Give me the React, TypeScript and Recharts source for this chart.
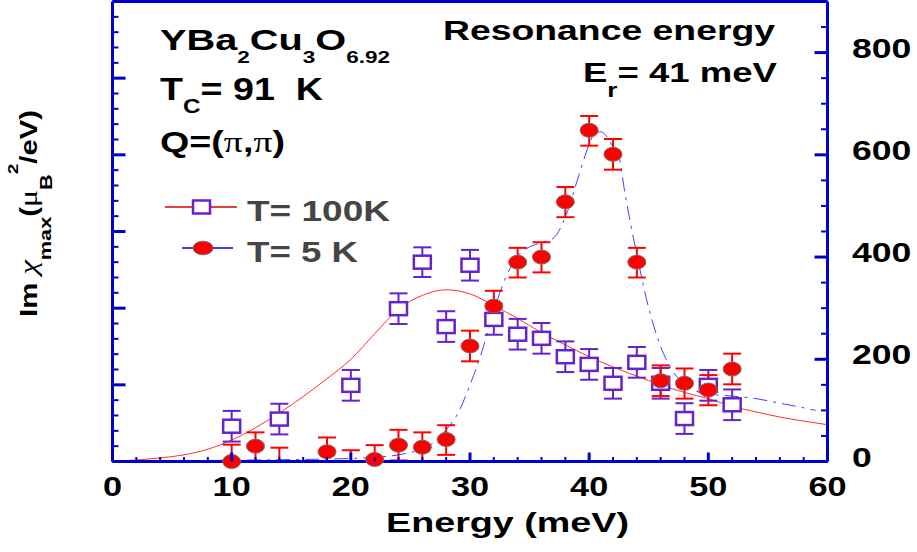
import React from 'react';
import { ComposedChart, XAxis, YAxis, Line, Scatter, ErrorBar } from 'recharts';

// T = 100 K data (open squares)
const energy100K = [10, 14, 20, 24, 26, 28, 30, 32, 34, 36, 38, 40, 42, 44, 46, 48, 50, 52];
const chi100K = [69, 83, 149, 299, 390, 264, 384, 278, 249, 241, 205, 190, 153, 194, 153, 84, 149, 111];
const err100K = [30, 30, 30, 30, 29, 30, 30, 30, 30, 30, 30, 30, 30, 30, 30, 30, 30, 30];

// T = 5 K data (red dots); points at 14 and 20 meV fall under the axis, only their bars show
const energy5K = [10, 12, 14, 18, 20, 22, 24, 26, 28, 30, 32, 34, 36, 38, 40, 42, 44, 46, 48, 50, 52];
const chi5K = [0, 30, 0, 19, 0, 4, 32, 28, 43, 226, 304, 390, 400, 508, 648, 601, 390, 158, 153, 140, 181];
const errLow5K = [0, 30, 0, 19, 0, 4, 30, 28, 30, 30, 30, 30, 30, 30, 30, 30, 30, 30, 30, 30, 30];
const errHigh5K = [33, 27, 27, 28, 22, 28, 30, 29, 28, 30, 30, 28, 29, 29, 28, 30, 28, 30, 29, 29, 30];
const hidden5K = [14, 20];

// fitted curves
const fitEnergy100K = [0, 2, 4, 6, 8, 10, 12, 14, 16, 18, 20, 22, 24, 26, 28, 30, 32, 34, 36, 38, 40, 42, 44, 46, 48, 50, 52, 54, 56, 58, 60];
const fitChi100K = [0, 3, 7, 13, 24, 42, 66, 95, 127, 162, 200, 250, 298, 325, 336, 328, 305, 280, 252, 228, 205, 185, 167, 150, 135, 123, 108, 97, 87, 79, 72];
const fitEnergy5K = [4, 8, 12, 16, 20, 22, 24, 26, 27, 28, 29, 30, 31, 32, 33, 34, 35, 36, 37, 38, 39, 40, 40.5, 41, 41.5, 42, 42.5, 43, 44, 45, 46, 47, 48, 49, 50, 52, 54, 56, 58, 59];
const fitChi5K = [1, 2, 3, 4, 6, 8, 13, 25, 38, 62, 95, 150, 215, 295, 360, 402, 420, 428, 437, 478, 550, 620, 643, 645, 635, 615, 596, 525, 405, 300, 225, 177, 152, 138, 132, 128, 123, 114, 105, 100];

// axis ticks
const energyTicks = [0, 2, 4, 6, 8, 10, 12, 14, 16, 18, 20, 22, 24, 26, 28, 30, 32, 34, 36, 38, 40, 42, 44, 46, 48, 50, 52, 54, 56, 58, 60];
const chiTicks = [0, 50, 100, 150, 200, 250, 300, 350, 400, 450, 500, 550, 600, 650, 700, 750, 800, 850, 900];
const chiLabels = [0, 200, 400, 600, 800];
const leftTicks = [0, 1, 2, 3, 4, 5, 6, 7, 8, 9, 10, 11, 12, 13, 14, 15, 16, 17, 18, 19, 20, 21, 22, 23, 24, 25, 26, 27, 28, 29, 30];

const data100K = energy100K.map((e, i) => ({ e, v: chi100K[i], err: err100K[i] }));
const data5K = energy5K.map((e, i) => ({
  e,
  v: chi5K[i],
  err: [errLow5K[i], errHigh5K[i]],
  hidden: hidden5K.includes(e),
}));
const fit100K = fitEnergy100K.map((e, i) => ({ e, v: fitChi100K[i] }));
const fit5K = fitEnergy5K.map((e, i) => ({ e, v: fitChi5K[i] }));

const BLUE = '#0000cc';
const PURPLE = '#6622cc';
const RED = '#ff0000';
const FONT = '"Liberation Sans", Arial, Helvetica, sans-serif';
const GREEK = '"Liberation Serif", "Times New Roman", serif';

function BottomTick(props: any) {
  const { x, y, payload } = props;
  const major = payload.value % 10 === 0;
  return (
    <g>
      <line x1={x} y1={y} x2={x} y2={y - (major ? 9 : 4.5)} stroke={BLUE} strokeWidth={major ? 3 : 2} />
      {major && (
        <text
          transform={`translate(${x},${y + 34.5}) scale(1.27,1)`}
          textAnchor="middle"
          fontSize={27}
          fontWeight="bold"
          fontFamily={FONT}
          fill="#000"
        >
          {payload.value}
        </text>
      )}
    </g>
  );
}

function TopTick(props: any) {
  const { x, y, payload } = props;
  const major = payload.value % 10 === 0;
  return <line x1={x} y1={y} x2={x} y2={y + (major ? 10 : 6)} stroke={BLUE} strokeWidth={major ? 3 : 2} />;
}

function LeftTick(props: any) {
  const { x, y, payload } = props;
  const major = payload.value % 5 === 0;
  return <line x1={x} y1={y} x2={x + (major ? 13 : 6)} y2={y} stroke={BLUE} strokeWidth={major ? 3 : 2} />;
}

function RightTick(props: any) {
  const { x, y, payload } = props;
  const major = payload.value % 200 === 0;
  return (
    <g>
      <line x1={x} y1={y} x2={x - (major ? 13 : 6.5)} y2={y} stroke={BLUE} strokeWidth={major ? 3 : 2} />
      {chiLabels.includes(payload.value) && (
        <text
          transform={`translate(${x + 24.5},${y + 5}) scale(1.27,1)`}
          fontSize={28}
          fontWeight="bold"
          fontFamily={FONT}
          fill="#000"
        >
          {payload.value}
        </text>
      )}
    </g>
  );
}

const Square = (p: any) => (
  <rect x={p.cx - 8.5} y={p.cy - 6.5} width={17} height={13} fill="#fff" stroke={PURPLE} strokeWidth={2.5} />
);

const Dot = (p: any) =>
  p.payload && p.payload.hidden ? (
    <g />
  ) : (
    <ellipse cx={p.cx} cy={p.cy} rx={9} ry={7} fill={RED} stroke="#6f6f6f" strokeWidth={1} />
  );

const txt = { fontFamily: FONT, fontWeight: 'bold' as const, fill: '#000', style: { whiteSpace: 'pre' as const } };

export default function App() {
  return (
    <div style={{ position: 'absolute', left: 0, top: 0, width: 917, height: 552, background: '#fff' }}>
      <ComposedChart width={917} height={552} margin={{ top: 0.5, right: 88.5, bottom: 89.5, left: 111.5 }}>
        <XAxis
          xAxisId="b"
          dataKey="e"
          type="number"
          domain={[0, 60]}
          ticks={energyTicks}
          interval={0}
          height={1}
          tickSize={0}
          tickMargin={0}
          tickLine={false}
          tick={(p: any) => <BottomTick {...p} />}
          axisLine={{ stroke: BLUE, strokeWidth: 3 }}
        />
        <XAxis
          xAxisId="t"
          orientation="top"
          type="number"
          domain={[0, 60]}
          allowDataOverflow
          ticks={energyTicks}
          interval={0}
          height={1}
          tickSize={0}
          tickMargin={0}
          tickLine={false}
          tick={(p: any) => <TopTick {...p} />}
          axisLine={{ stroke: BLUE, strokeWidth: 3 }}
        />
        <YAxis
          yAxisId="l"
          type="number"
          domain={[0, 30]}
          allowDataOverflow
          ticks={leftTicks}
          interval={0}
          width={1}
          tickSize={0}
          tickMargin={0}
          tickLine={false}
          tick={(p: any) => <LeftTick {...p} />}
          axisLine={{ stroke: BLUE, strokeWidth: 3 }}
        />
        <YAxis
          yAxisId="r"
          orientation="right"
          dataKey="v"
          type="number"
          domain={[0, 900]}
          ticks={chiTicks}
          interval={0}
          width={1}
          tickSize={0}
          tickMargin={0}
          tickLine={false}
          tick={(p: any) => <RightTick {...p} />}
          axisLine={{ stroke: BLUE, strokeWidth: 3 }}
        />

        <Line
          xAxisId="b"
          yAxisId="r"
          data={fit100K}
          dataKey="v"
          type="monotone"
          stroke="#ff3030"
          strokeWidth={1}
          dot={false}
          isAnimationActive={false}
        />
        <Line
          xAxisId="b"
          yAxisId="r"
          data={fit5K}
          dataKey="v"
          type="monotone"
          stroke="#4040ff"
          strokeWidth={1}
          strokeDasharray="14 6 3 6"
          dot={false}
          isAnimationActive={false}
        />
        <Scatter xAxisId="b" yAxisId="r" data={data100K} dataKey="v" shape={Square} isAnimationActive={false}>
          <ErrorBar dataKey="err" direction="y" width={9} stroke={PURPLE} strokeWidth={2} />
        </Scatter>
        <Scatter xAxisId="b" yAxisId="r" data={data5K} dataKey="v" shape={Dot} isAnimationActive={false}>
          <ErrorBar dataKey="err" direction="y" width={9} stroke={RED} strokeWidth={2} />
        </Scatter>

        {/* annotations */}
        <text x={160} y={50} fontSize={30} textLength={230} lengthAdjust="spacingAndGlyphs" {...txt}>
          YBa<tspan dy={13} fontSize={17}>2</tspan>
          <tspan dy={-13}>Cu</tspan>
          <tspan dy={13} fontSize={17}>3</tspan>
          <tspan dy={-13}>O</tspan>
          <tspan dy={13} fontSize={17}>6.92</tspan>
        </text>
        <text x={160} y={100} fontSize={31} textLength={163} lengthAdjust="spacingAndGlyphs" {...txt}>
          T<tspan dy={13} fontSize={20}>C</tspan>
          <tspan dy={-13}>{'= 91  K'}</tspan>
        </text>
        <text x={160} y={152} fontSize={30} textLength={125} lengthAdjust="spacingAndGlyphs" {...txt}>
          {'Q=('}
          <tspan fontFamily={GREEK} fontWeight="normal">π</tspan>
          {','}
          <tspan fontFamily={GREEK} fontWeight="normal">π</tspan>
          {')'}
        </text>
        <text x={443} y={40} fontSize={27} textLength={332} lengthAdjust="spacingAndGlyphs" {...txt}>
          Resonance energy
        </text>
        <text x={583} y={82} fontSize={28} textLength={194} lengthAdjust="spacingAndGlyphs" {...txt}>
          E<tspan dy={15} fontSize={20}>r</tspan>
          <tspan dy={-15}>{'= 41 meV'}</tspan>
        </text>

        {/* legend */}
        <line x1={165} y1={207} x2={237} y2={207} stroke="#dd0000" strokeWidth={1.5} />
        <rect x={193} y={200.5} width={17} height={13} fill="#fff" stroke={PURPLE} strokeWidth={2.5} />
        <text x={247} y={221} fontSize={30} textLength={143} lengthAdjust="spacingAndGlyphs" {...txt} fill="#454545">
          T= 100K
        </text>
        <line x1={182} y1={248} x2={233} y2={248} stroke="#0000dd" strokeWidth={1.5} />
        <ellipse cx={203} cy={248} rx={10} ry={6.8} fill={RED} stroke="#6f6f6f" strokeWidth={1} />
        <text x={247} y={262} fontSize={30} textLength={111} lengthAdjust="spacingAndGlyphs" {...txt} fill="#454545">
          {'T= 5 K'}
        </text>

        {/* axis titles */}
        <text x={386} y={532} fontSize={27} textLength={243} lengthAdjust="spacingAndGlyphs" {...txt}>
          Energy (meV)
        </text>
        <g transform="translate(37,317) rotate(-90)">
          <text x={0} y={0} fontSize={23} textLength={207} lengthAdjust="spacingAndGlyphs" {...txt}>
            {'Im '}
            <tspan fontFamily={GREEK} fontStyle="italic" fontWeight="normal" fontSize={26}>χ</tspan>
            <tspan dy={14} fontSize={17}>max</tspan>
            <tspan dy={-14}>(</tspan>
            <tspan fontFamily={GREEK} fontWeight="normal" fontSize={25}>μ</tspan>
            <tspan dy={15} fontSize={17}>B</tspan>
            <tspan dy={-34} fontSize={15}>2</tspan>
            <tspan dy={19}>/eV)</tspan>
          </text>
        </g>
      </ComposedChart>
    </div>
  );
}
